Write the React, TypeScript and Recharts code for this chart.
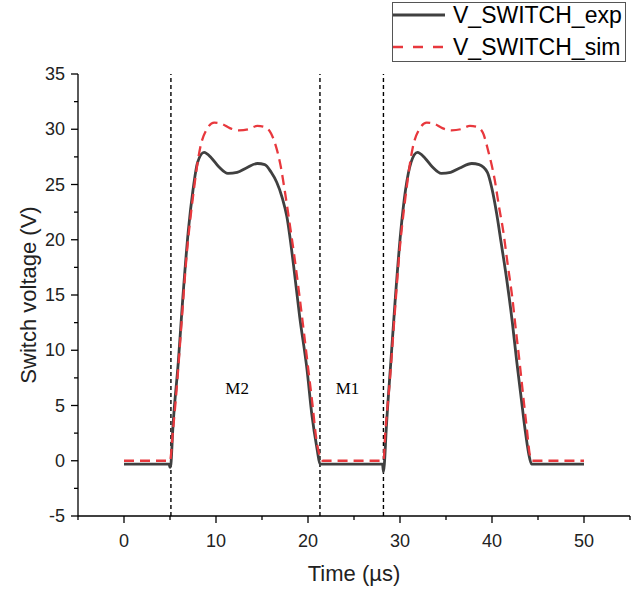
import React from 'react';
import { LineChart, Line, XAxis, YAxis, ReferenceLine, ReferenceDot, Legend } from 'recharts';

// measured switch voltage (time in µs, voltage in V)
const expTime = [
  0, 4.9, 5.0, 5.1, 5.3, 5.9, 6.4, 7.0, 7.5, 8.0, 8.7, 9.5, 10.3, 11.3, 12.3, 13.3, 14.5, 15.3, 16.0,
  16.6, 17.2, 17.7, 18.4, 19.1, 19.9, 20.4, 21.0, 21.3, 28.1, 28.2, 28.3, 28.5, 29.0, 29.5, 30.1, 30.6,
  31.2, 31.9, 32.7, 33.5, 34.5, 35.5, 36.5, 37.8, 38.6, 39.5, 40.0, 40.5, 41.0, 41.6, 42.2, 42.7, 43.2,
  43.6, 44.0, 44.3, 50,
];
const expVolt = [
  -0.3, -0.3, -0.6, -0.3, 2.8, 8.9, 14.8, 20.9, 24.5, 27.0, 27.9, 27.4, 26.6, 26.0, 26.1, 26.5, 26.9, 26.8, 26.1,
  25.2, 23.8, 22.1, 17.9, 13.0, 8.2, 4.3, 1.0, -0.3, -0.3, -1.0, -0.3, 2.8, 8.9, 14.8, 20.9, 24.5,
  27.0, 27.9, 27.4, 26.6, 26.0, 26.1, 26.5, 26.9, 26.8, 26.1, 24.6, 22.4, 19.7, 16.4, 12.6, 8.9, 5.5,
  2.8, 0.6, -0.3, -0.3,
];

// simulated switch voltage
const simTime = [
  0, 5.0, 5.3, 5.8, 6.3, 6.8, 7.5, 8.3, 9.0, 9.8, 10.6, 11.5, 12.5, 13.5, 14.5, 15.3, 16.0, 16.5, 17.0,
  17.5, 18.0, 18.5, 19.0, 19.5, 20.0, 20.5, 20.9, 21.3, 21.6, 28.2, 28.4, 28.9, 29.4, 29.9, 30.6, 31.4,
  32.1, 32.9, 33.7, 34.6, 35.6, 36.6, 37.6, 38.4, 39.0, 39.6, 40.3, 40.8, 41.2, 41.7, 42.2, 42.6, 43.0,
  43.4, 43.8, 44.1, 44.4, 50,
];
const simVolt = [
  0, 0, 2.5, 7.3, 13.0, 18.5, 23.9, 28.4, 30.0, 30.6, 30.5, 30.1, 29.9, 30.0, 30.3, 30.2, 29.6, 28.5, 26.8,
  24.3, 21.5, 18.6, 15.4, 12.0, 8.5, 5.0, 2.0, 0.4, 0, 0, 2.5, 7.3, 13.0, 18.5, 23.9, 28.4,
  30.0, 30.6, 30.5, 30.1, 29.9, 30.0, 30.3, 30.2, 29.7, 28.0, 25.4, 22.8, 20.9, 17.8, 14.8, 11.8, 8.9,
  5.8, 2.8, 0.6, 0, 0,
];

const switchTimes = [5.1, 21.3, 28.2];
const modeLabels = [
  { name: 'M2', t: 12.3, v: 6.6 },
  { name: 'M1', t: 24.3, v: 6.6 },
];

const xTicks = [-5, 0, 5, 10, 15, 20, 25, 30, 35, 40, 45, 50, 55];
const xLabels = [0, 10, 20, 30, 40, 50];
const yTicks = [-5, -2.5, 0, 2.5, 5, 7.5, 10, 12.5, 15, 17.5, 20, 22.5, 25, 27.5, 30, 32.5, 35];
const yLabels = [-5, 0, 5, 10, 15, 20, 25, 30, 35];

const expData = expTime.map((t, i) => ({ t, v: expVolt[i] }));
const simData = simTime.map((t, i) => ({ t, v: simVolt[i] }));

const FONT = '"Liberation Sans", Arial, sans-serif';
const EXP_COLOR = '#404040';
const SIM_COLOR = '#e8383d';

const BottomTick = ({ x, y, payload }: any) => {
  const major = xLabels.includes(payload.value);
  return (
    <g>
      <line x1={x} x2={x} y1={y} y2={y + (major ? 7 : 4)} stroke="#000" strokeWidth={1.3} />
      {major && (
        <text x={x} y={y + 31} textAnchor="middle" fontSize={18} fontFamily={FONT} fill="#222">
          {payload.value}
        </text>
      )}
    </g>
  );
};

const LeftTick = ({ x, y, payload }: any) => {
  const major = yLabels.includes(payload.value);
  return (
    <g>
      <line x1={x - (major ? 7 : 4)} x2={x} y1={y} y2={y} stroke="#000" strokeWidth={1.3} />
      {major && (
        <text x={x - 13} y={y + 6} textAnchor="end" fontSize={18} fontFamily={FONT} fill="#222">
          {payload.value}
        </text>
      )}
    </g>
  );
};

const TopTick = ({ x, y, payload }: any) => {
  const major = xLabels.includes(payload.value);
  return <line x1={x} x2={x} y1={y} y2={y + (major ? 7 : 4)} stroke="#000" strokeWidth={1.3} />;
};

const RightTick = ({ x, y, payload }: any) => {
  const major = yLabels.includes(payload.value);
  return <line x1={x - (major ? 7 : 4)} x2={x} y1={y} y2={y} stroke="#000" strokeWidth={1.3} />;
};

const LegendBox = () => (
  <svg width={234} height={60}>
    <rect x={0.5} y={0.5} width={233} height={59} fill="#fff" stroke="#555" />
    <line x1={1} x2={53} y1={13} y2={13} stroke={EXP_COLOR} strokeWidth={2.8} />
    <text x={61} y={21} fontSize={23} fontFamily={FONT} fill="#000">V_SWITCH_exp</text>
    <line x1={1} x2={53} y1={45} y2={45} stroke={SIM_COLOR} strokeWidth={2.5} strokeDasharray="10 10" />
    <text x={61} y={53} fontSize={23} fontFamily={FONT} fill="#000">V_SWITCH_sim</text>
  </svg>
);

export default function App() {
  const axisLine = { stroke: '#000', strokeWidth: 1.3 };
  return (
    <div style={{ position: 'absolute', left: 0, top: 0, width: 643, height: 592, background: '#fff' }}>
      <LineChart width={643} height={592} margin={{ top: 74, right: 13, bottom: 0, left: 0 }}>
        <XAxis
          type="number"
          dataKey="t"
          domain={[-5, 55]}
          ticks={xTicks}
          interval={0}
          allowDataOverflow
          height={76}
          tickSize={0}
          tickMargin={0}
          tickLine={false}
          axisLine={axisLine}
          tick={<BottomTick />}
          label={{ value: 'Time (µs)', position: 'center', dy: 19, fontSize: 22, fontFamily: FONT, fill: '#222' }}
        />
        <XAxis
          xAxisId="top"
          orientation="top"
          type="number"
          dataKey="t"
          domain={[-5, 55]}
          ticks={xTicks}
          interval={0}
          allowDataOverflow
          height={0}
          tickSize={0}
          tickMargin={0}
          tickLine={false}
          axisLine={axisLine}
          tick={<TopTick />}
        />
        <YAxis
          type="number"
          domain={[-5, 35]}
          ticks={yTicks}
          interval={0}
          allowDataOverflow
          width={78}
          tickSize={0}
          tickMargin={0}
          tickLine={false}
          axisLine={axisLine}
          tick={<LeftTick />}
          label={{ value: 'Switch voltage (V)', angle: -90, position: 'center', dx: -11, fontSize: 22, fontFamily: FONT, fill: '#222' }}
        />
        <YAxis
          yAxisId="right"
          orientation="right"
          type="number"
          domain={[-5, 35]}
          ticks={yTicks}
          interval={0}
          allowDataOverflow
          width={0}
          tickSize={0}
          tickMargin={0}
          tickLine={false}
          axisLine={axisLine}
          tick={<RightTick />}
        />
        {switchTimes.map((t) => (
          <ReferenceLine key={t} x={t} stroke="#000" strokeWidth={1.4} strokeDasharray="4 3" />
        ))}
        {modeLabels.map((m) => (
          <ReferenceDot
            key={m.name}
            x={m.t}
            y={m.v}
            r={0}
            fill="none"
            stroke="none"
            label={{ value: m.name, position: 'center', fontSize: 17, fontFamily: '"Liberation Serif", "Times New Roman", serif', fill: '#000' }}
          />
        ))}
        <Line
          data={expData}
          dataKey="v"
          type="monotone"
          stroke={EXP_COLOR}
          strokeWidth={2.8}
          dot={false}
          isAnimationActive={false}
        />
        <Line
          data={simData}
          dataKey="v"
          type="monotone"
          stroke={SIM_COLOR}
          strokeWidth={2.3}
          strokeDasharray="10 6"
          dot={false}
          isAnimationActive={false}
        />
        <Legend
          layout="vertical"
          align="center"
          verticalAlign="middle"
          content={<LegendBox />}
          wrapperStyle={{ left: 392, top: 2, width: 234, height: 60 }}
        />
      </LineChart>
    </div>
  );
}
